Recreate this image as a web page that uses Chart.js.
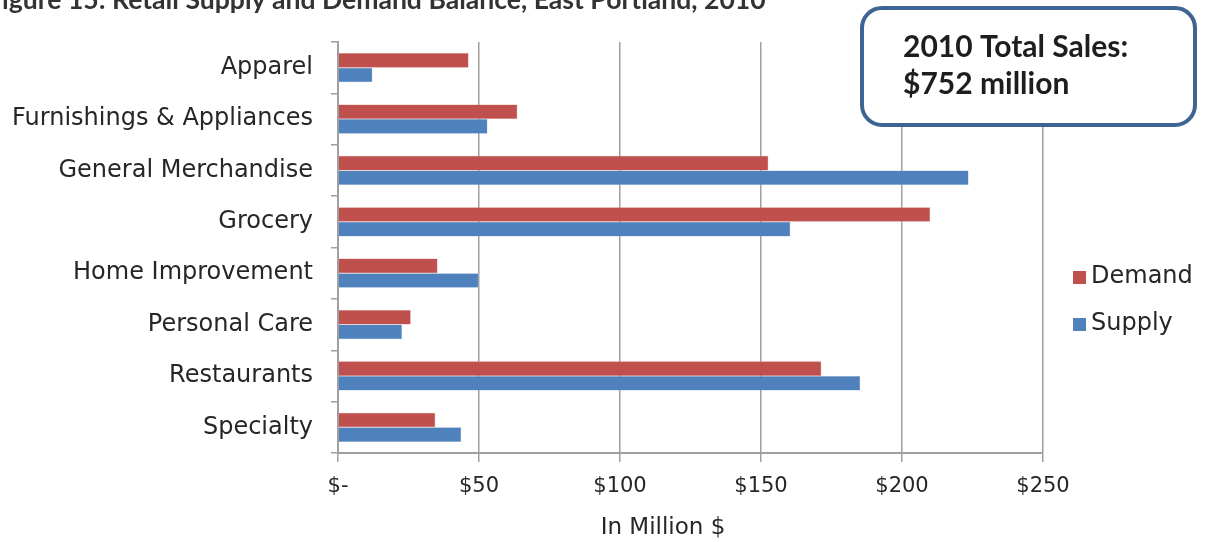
<!DOCTYPE html>
<html>
<head>
<meta charset="utf-8">
<script src="https://cdn.jsdelivr.net/npm/chart.js@4"></script>
<style>
  html, body { margin: 0; padding: 0; background: #fff; }
  #wrap { width: 1207px; height: 542px; }
</style>
</head>
<body>
<div id="wrap"><canvas id="retailChart" width="1207" height="542"></canvas></div>
<script>
const categories = ['Apparel', 'Furnishings & Appliances', 'General Merchandise', 'Grocery',
  'Home Improvement', 'Personal Care', 'Restaurants', 'Specialty'];
const demand = [46.3, 63.6, 152.6, 210.0, 35.3, 25.8, 171.4, 34.5];
const supply = [12.2, 53.0, 223.6, 160.4, 49.8, 22.7, 185.2, 43.7];
const xTicks = [0, 50, 100, 150, 200, 250];
const seriesNames = ['Demand', 'Supply'];

const RED = '#C0504D';
const BLUE = '#4F81BD';
const GRID = '#a0a0a0';
const TEXT = '#262626';
const FONT = "'DejaVu Sans', sans-serif";

const extras = {
  id: 'extras',
  afterDraw(chart) {
    const ctx = chart.ctx;
    ctx.save();

    // title, cut off at the top of the picture
    const title = 'Figure 15: Retail Supply and Demand Balance, East Portland, 2010';
    ctx.font = "bold 22px Lato, sans-serif";
    const wRest = ctx.measureText(title.slice(1)).width;
    const size = 22 * 764 / wRest;
    ctx.font = `bold ${size}px Lato, sans-serif`;
    const wF = ctx.measureText('F').width;
    ctx.fillStyle = '#333';
    ctx.textBaseline = 'alphabetic';
    ctx.textAlign = 'left';
    ctx.fillText(title, 2 - wF, 9);

    // total sales box
    ctx.beginPath();
    ctx.roundRect(862, 8, 333, 117, 20);
    ctx.fillStyle = '#fff';
    ctx.fill();
    ctx.lineWidth = 4;
    ctx.strokeStyle = '#3E6591';
    ctx.stroke();
    ctx.fillStyle = '#1e1e1e';
    ctx.font = "bold 30px Lato, sans-serif";
    ctx.fillText('2010 Total Sales:', 903, 57);
    ctx.fillText('$752 million', 903, 94);

    // axis title, centred on the whole figure as in the original
    ctx.font = `23px ${FONT}`;
    ctx.fillStyle = TEXT;
    ctx.textAlign = 'center';
    ctx.textBaseline = 'middle';
    ctx.fillText('In Million $', 663, 528);

    // legend
    const colors = [RED, BLUE];
    const ys = [277, 324];
    ctx.font = `24px ${FONT}`;
    ctx.textAlign = 'left';
    seriesNames.forEach((name, i) => {
      ctx.fillStyle = colors[i];
      ctx.fillRect(1073, ys[i] - 6, 13, 13);
      ctx.fillStyle = TEXT;
      ctx.fillText(name, 1091, ys[i]);
    });
    ctx.restore();
  }
};

new Chart(document.getElementById('retailChart'), {
  type: 'bar',
  data: {
    labels: categories,
    datasets: [{
      label: seriesNames[0],
      data: demand,
      backgroundColor: RED,
      borderColor: '#d98a88',
      borderWidth: 0.5
    }, {
      label: seriesNames[1],
      data: supply,
      backgroundColor: BLUE,
      borderColor: '#8fb0d8',
      borderWidth: 0.5
    }]
  },
  options: {
    indexAxis: 'y',
    responsive: false,
    animation: false,
    devicePixelRatio: 1,
    categoryPercentage: 0.57,
    barPercentage: 1,
    layout: { padding: { top: 42, right: 164, left: 0, bottom: 0 } },
    plugins: {
      legend: { display: false },
      tooltip: { enabled: false }
    },
    scales: {
      x: {
        min: 0,
        max: 250,
        afterBuildTicks(scale) {
          scale.ticks = xTicks.map(v => ({ value: v }));
        },
        afterFit(scale) { scale.height = 89; },
        grid: { color: GRID, lineWidth: 1.5, tickLength: 9 },
        border: { color: GRID, width: 2 },
        ticks: {
          color: TEXT,
          font: { family: FONT, size: 21 },
          padding: 12,
          callback: v => v === 0 ? '$-' : '$' + v
        }
      },
      y: {
        afterFit(scale) { scale.width = 338; },
        grid: { drawOnChartArea: false, color: GRID, lineWidth: 1.5, tickLength: 7, offset: true },
        border: { color: GRID, width: 2 },
        ticks: {
          color: TEXT,
          font: { family: FONT, size: 24 },
          padding: 18
        }
      }
    }
  },
  plugins: [extras]
});
</script>
</body>
</html>
